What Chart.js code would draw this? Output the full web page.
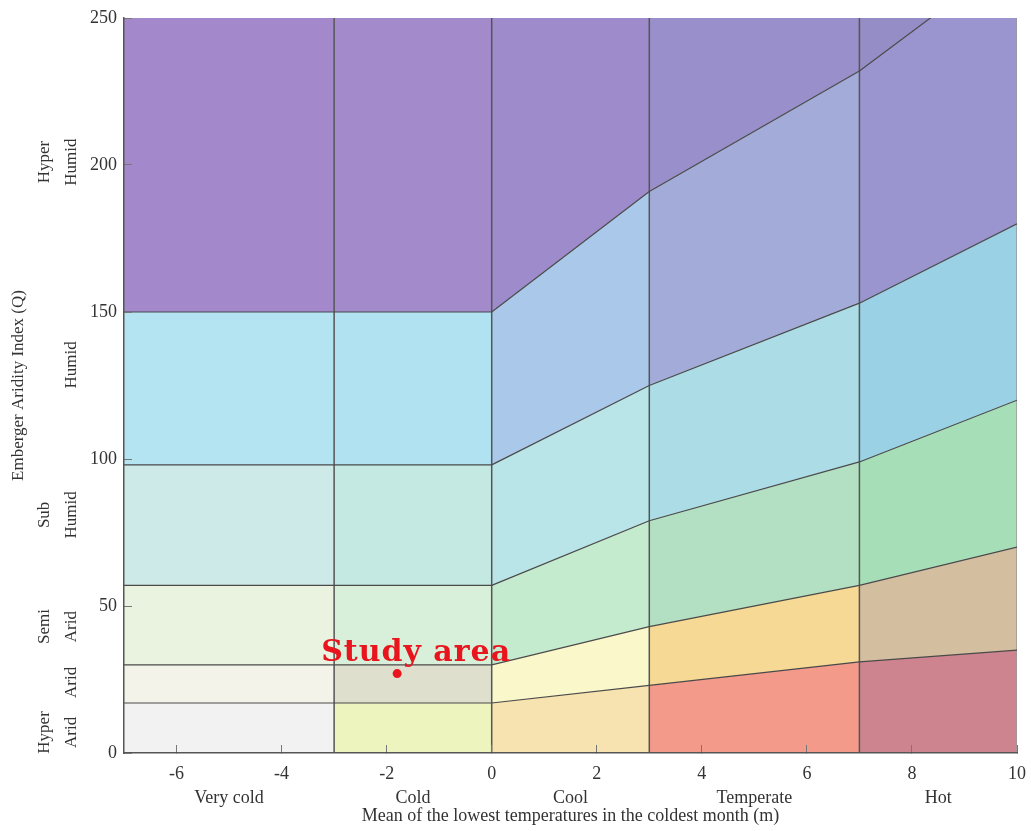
<!DOCTYPE html>
<html lang="en">
<head>
<meta charset="UTF-8">
<title>Emberger climagram</title>
<script src="https://cdn.jsdelivr.net/npm/chart.js@4/dist/chart.umd.min.js"></script>
<style>
  body { margin: 0; background: #fff; }
</style>
</head>
<body>
<canvas id="chart" width="1031" height="831"></canvas>
<script>
// temperature classes (columns) and where they start / end on the m axis
var classNames = ['Very cold', 'Cold', 'Cool', 'Temperate', 'Hot'];
var classEdges = [-7, -3, 0, 3, 7, 10];
var classCenters = [-5, -1.5, 1.5, 5, 8.5];

// Q value of each boundary line, read at the classEdges
var line1 = [17, 17, 17, 23, 31, 35];       // hyper arid | arid
var line2 = [30, 30, 30, 43, 57, 70];       // arid | semi arid
var line3 = [57, 57, 57, 79, 99, 120];      // semi arid | sub humid
var line4 = [98, 98, 98, 125, 153, 180];    // sub humid | humid
var line5 = [150, 150, 150, 191, 232, 272]; // humid | hyper humid
var topLine = [250, 250, 250, 250, 250, 250];

var bandNames = [['Hyper', 'Arid'], ['Arid'], ['Semi', 'Arid'], ['Sub', 'Humid'], ['Humid'], ['Hyper', 'Humid']];
var bandLabelQ = [7, 24, 43, 81, 132, 201];

// cell colours: one row per band (bottom up), one entry per class
var bandColors = [
    ['#f2f2f2', '#eef4bd', '#f7e3b0', '#f39a8a', '#cd848e'],
    ['#f3f3e9', '#dfdfcd', '#faf7cb', '#f5d995', '#d4bea0'],
    ['#eaf3e0', '#d8efd9', '#c4ebce', '#b3e0c3', '#a6deb8'],
    ['#cdeae8', '#c3e9e2', '#b9e5e9', '#acdce6', '#9ad1e4'],
    ['#b4e4f2', '#b1e2f1', '#aac9ea', '#a3acd9', '#9a94cf'],
    ['#a389cb', '#a38acb', '#9d8bcb', '#998fca', '#958ec6']
];

var xTicks = [-6, -4, -2, 0, 2, 4, 6, 8, 10];
var yTicks = [0, 50, 100, 150, 200, 250];

var studyArea = { m: -1.8, q: 27 };

var serif = '"Liberation Serif", "Times New Roman", serif';
var lines = [line1, line2, line3, line4, line5, topLine];
var datasets = [];

// one filled segment per band and class
for (var c = 0; c < classNames.length; c++) {
    for (var b = 0; b < lines.length; b++) {
        datasets.push({
            data: [{ x: classEdges[c], y: lines[b][c] }, { x: classEdges[c + 1], y: lines[b][c + 1] }],
            backgroundColor: bandColors[b][c],
            borderColor: b < 5 ? '#4a4a4a' : 'rgba(0,0,0,0)',
            borderWidth: b < 5 ? 1.2 : 0,
            fill: b === 0 ? 'origin' : '-1',
            pointRadius: 0
        });
    }
}

// class separators
for (var k = 1; k < classEdges.length - 1; k++) {
    datasets.push({
        data: [{ x: classEdges[k], y: 0 }, { x: classEdges[k], y: yTicks[yTicks.length - 1] }],
        borderColor: '#555',
        borderWidth: 1.5,
        fill: false,
        pointRadius: 0
    });
}
datasets.push({
    data: [{ x: classEdges[5], y: 0 }, { x: classEdges[5], y: yTicks[yTicks.length - 1] }],
    borderColor: '#999',
    borderWidth: 1.5,
    fill: false,
    pointRadius: 0
});

var studyIndex = datasets.length;
datasets.push({
    data: [{ x: studyArea.m, y: studyArea.q }],
    showLine: false,
    fill: false,
    pointRadius: 4.5,
    pointBackgroundColor: '#e8141e',
    pointBorderWidth: 0
});

var annotate = {
    id: 'annotate',
    afterDraw: function (chart) {
        var ctx = chart.ctx;
        var yScale = chart.scales.y;
        ctx.save();
        ctx.fillStyle = '#333';
        ctx.textAlign = 'center';
        ctx.textBaseline = 'middle';
        ctx.font = '17px ' + serif;
        bandNames.forEach(function (words, i) {
            var py = yScale.getPixelForValue(bandLabelQ[i]);
            words.forEach(function (word, j) {
                var px = (words.length === 1 || j === 1) ? 72 : 45;
                ctx.save();
                ctx.translate(px, py);
                ctx.rotate(-Math.PI / 2);
                ctx.fillText(word, 0, 0);
                ctx.restore();
            });
        });

        var pt = chart.getDatasetMeta(studyIndex).data[0];
        ctx.font = 'bold 30px "DejaVu Serif", serif';
        ctx.letterSpacing = '1px';
        ctx.fillStyle = '#e8141e';
        ctx.textBaseline = 'alphabetic';
        ctx.fillText('Study area', pt.x + 19, pt.y - 13);
        ctx.restore();
    }
};

// the tick labels may spill over the plot edges, like in the original figure
function noOverflow(s) {
    s.paddingTop = 0;
    s.paddingBottom = 0;
    s.paddingLeft = 0;
    s.paddingRight = 0;
}

new Chart(document.getElementById('chart'), {
    type: 'line',
    data: { datasets: datasets },
    plugins: [annotate],
    options: {
        responsive: false,
        animation: false,
        layout: { padding: { top: 18, right: 14, left: 0, bottom: 0 } },
        plugins: {
            legend: { display: false },
            tooltip: { enabled: false },
            filler: { drawTime: 'beforeDatasetsDraw' }
        },
        scales: {
            x: {
                type: 'linear',
                min: -7,
                max: 10,
                weight: 0,
                afterBuildTicks: function (s) { s.ticks = xTicks.map(function (v) { return { value: v }; }); },
                afterFit: function (s) { s.height = 30; noOverflow(s); },
                grid: { drawOnChartArea: false, tickLength: -8, color: '#777', z: 1 },
                border: { color: '#555', width: 1.5, z: 1 },
                ticks: { font: { family: serif, size: 18 }, color: '#333', padding: 18, maxRotation: 0 }
            },
            x2: {
                type: 'linear',
                position: 'bottom',
                min: -7,
                max: 10,
                weight: 1,
                afterBuildTicks: function (s) { s.ticks = classCenters.map(function (v) { return { value: v }; }); },
                afterFit: function (s) { s.height = 48; noOverflow(s); },
                grid: { display: false },
                border: { display: false },
                ticks: {
                    font: { family: serif, size: 18 },
                    color: '#333',
                    padding: -4,
                    maxRotation: 0,
                    callback: function (v, i) { return classNames[i]; }
                },
                title: {
                    display: true,
                    text: 'Mean of the lowest temperatures in the coldest month (m)',
                    font: { family: serif, size: 18 },
                    color: '#333',
                    padding: { top: 0, bottom: 4 }
                }
            },
            y: {
                min: 0,
                max: 250,
                afterBuildTicks: function (s) { s.ticks = yTicks.map(function (v) { return { value: v }; }); },
                afterFit: function (s) { s.width = 124; noOverflow(s); },
                grid: { drawOnChartArea: false, tickLength: -8, color: '#777', z: 1 },
                border: { color: '#555', width: 1.5, z: 1 },
                ticks: { font: { family: serif, size: 18 }, color: '#333', padding: 15 },
                title: {
                    display: true,
                    text: 'Emberger Aridity Index (Q)',
                    font: { family: serif, size: 17 },
                    color: '#333',
                    padding: { top: 8, bottom: 0 }
                }
            }
        }
    }
});
</script>
</body>
</html>
